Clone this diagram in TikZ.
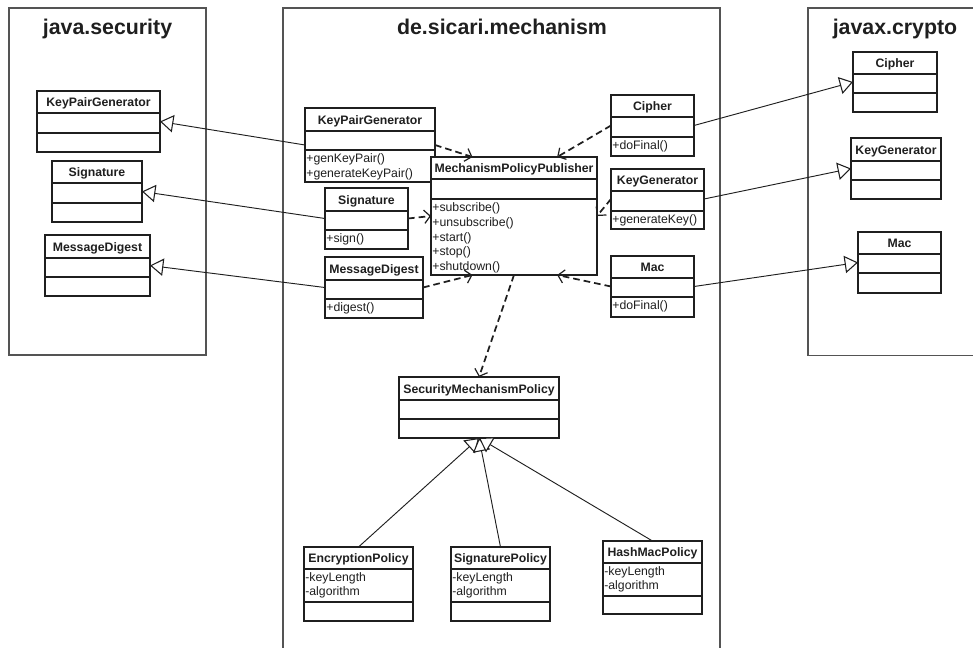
\documentclass[tikz,border=0pt]{standalone}
\usepackage{fontspec}
\setmainfont{Liberation Sans}
\usetikzlibrary{arrows.meta,calc}

\definecolor{umlline}{gray}{0.12}
\definecolor{pkggray}{gray}{0.33}

\tikzset{
  classbox/.style={draw=umlline, line width=1pt, fill=white, inner sep=0pt, outer sep=0pt},
  sepline/.style={draw=umlline, line width=1pt},
  classname/.style={font=\fontsize{9.2}{11}\selectfont\bfseries, inner sep=0pt, anchor=base, text=umlline},
  members/.style={font=\fontsize{9.2}{10.9}\selectfont, inner xsep=0.8pt, inner ysep=0pt,
                  anchor=north west, align=left, text=umlline},
  pkgframe/.style={draw=pkggray, line width=1.1pt},
  pkgtitle/.style={font=\fontsize{16}{19}\selectfont\bfseries, inner sep=0pt, anchor=base, text=umlline},
  generalize/.style={draw=umlline, line width=0.7pt,
                     -{Triangle[length=10pt, width=13pt, fill=white, line width=0.8pt]}},
  depends/.style={draw=umlline, line width=1.3pt, dash pattern=on 5pt off 3pt,
                  -{Straight Barb[length=4.5pt, width=10pt, line width=0.9pt]}},
}

% class box: name, left, top, right, bottom, first separator, second separator, class name
\newcommand{\umlclass}[8]{%
  \node[classbox, minimum width={(#4-#2)*0.75pt}, minimum height={(#5-#3)*0.75pt}]
    (#1) at ({(#2+#4)/2},{(#3+#5)/2}) {};
  \draw[sepline] (#2,#6) -- (#4,#6);
  \draw[sepline] (#2,#7) -- (#4,#7);
  \node[classname] (#1-name) at ({(#2+#4)/2},{(#3+#6)/2+4.5}) {#8};
}
\newcommand{\firstline}{\rule{0pt}{9.5pt}}

\begin{document}
\begin{tikzpicture}[x=0.75pt, y=-0.75pt]
\useasboundingbox (0,0) rectangle (973,647);

% ---------------- packages ----------------
\node[pkgframe, inner sep=0pt, minimum width={197*0.75pt}, minimum height={347*0.75pt}]
  (pkg-js) at (107.5,181.5) {};
\node[pkgtitle] (pkg-js-title) at (107.5,34) {java.security};

\draw[pkgframe] (283,652) -- (283,8) -- (720,8) -- (720,652);
\node[pkgtitle] (pkg-mech-title) at (502,34) {de.sicari.mechanism};

\draw[pkgframe] (980,8) -- (808,8) -- (808,355.5) -- (980,355.5);
\node[pkgtitle] (pkg-jx-title) at (895,34) {javax.crypto};

% ---------------- java.security ----------------
\umlclass{jkpg}{37}{91}{160}{152}{113}{133}{KeyPairGenerator}
\umlclass{jsig}{52}{161}{142}{222}{183}{203}{Signature}
\umlclass{jmd}{45}{235}{150}{296}{258}{277}{MessageDigest}

% ---------------- javax.crypto ----------------
\umlclass{xcip}{853}{52}{937}{112}{74}{93}{Cipher}
\umlclass{xkg}{851}{138}{941}{199}{161}{180}{KeyGenerator}
\umlclass{xmac}{858}{232}{941}{293}{254}{273}{Mac}

% ---------------- de.sicari.mechanism ----------------
\umlclass{mkpg}{305}{108}{435}{182}{131}{150}{KeyPairGenerator}
\node[members] (mkpg-ops) at (305,150) {\firstline+genKeyPair()\\+generateKeyPair()};

\umlclass{mpp}{431}{157}{597}{275}{179}{199}{MechanismPolicyPublisher}
\node[members] (mpp-ops) at (431,199)
  {\firstline+subscribe()\\+unsubscribe()\\+start()\\+stop()\\+shutdown()};

\umlclass{msig}{325}{188}{408}{249}{211}{230}{Signature}
\node[members] (msig-ops) at (325,230) {\firstline+sign()};

\umlclass{mmd}{325}{257}{423}{318}{280}{299}{MessageDigest}
\node[members] (mmd-ops) at (325,299) {\firstline+digest()};

\umlclass{mcip}{611}{95}{694}{156}{117}{137}{Cipher}
\node[members] (mcip-ops) at (611,137) {\firstline+doFinal()};

\umlclass{mkg}{611}{169}{704}{229}{191}{211}{KeyGenerator}
\node[members] (mkg-ops) at (611,211) {\firstline+generateKey()};

\umlclass{mmac}{611}{256}{694}{317}{278}{297}{Mac}
\node[members] (mmac-ops) at (611,297) {\firstline+doFinal()};

\umlclass{smp}{399}{377}{559}{438}{400}{419}{SecurityMechanismPolicy}

\umlclass{enc}{304}{547}{413}{621}{569}{602}{EncryptionPolicy}
\node[members, font=\fontsize{9.2}{10.5}\selectfont] (enc-attr) at (304,569)
  {\firstline-keyLength\\-algorithm};

\umlclass{sigp}{451}{547}{550}{621}{569}{602}{SignaturePolicy}
\node[members, font=\fontsize{9.2}{10.5}\selectfont] (sigp-attr) at (451,569)
  {\firstline-keyLength\\-algorithm};

\umlclass{hmp}{603}{541}{702}{614}{563}{596}{HashMacPolicy}
\node[members, font=\fontsize{9.2}{10.5}\selectfont] (hmp-attr) at (603,563)
  {\firstline-keyLength\\-algorithm};

% ---------------- generalizations ----------------
\draw[generalize] (mkpg.west) -- (jkpg.east);
\draw[generalize] (msig.west) -- (jsig.east);
\draw[generalize] (mmd.west) -- (jmd.east);
\draw[generalize] (mcip.east) -- (xcip.west);
\draw[generalize] (mkg.east) -- (xkg.west);
\draw[generalize] (mmac.east) -- (xmac.west);
\draw[generalize] (enc.north) -- (smp.south);
\draw[generalize] (sigp.north) -- (smp.south);
\draw[generalize] (hmp.north) -- (smp.south);

% ---------------- dependencies ----------------
\draw[depends] (mkpg.east) -- ($(mpp.north west)!0.25!(mpp.north east)$);
\draw[depends] (msig.east) -- (mpp.west);
\draw[depends] (mmd.east) -- ($(mpp.south west)!0.25!(mpp.south east)$);
\draw[depends] (mcip.west) -- ($(mpp.north west)!0.76!(mpp.north east)$);
\draw[depends] (mkg.west) -- (mpp.east);
\draw[depends] (mmac.west) -- ($(mpp.south west)!0.76!(mpp.south east)$);
\draw[depends] (mpp.south) -- (smp.north);
\end{tikzpicture}
\end{document}
